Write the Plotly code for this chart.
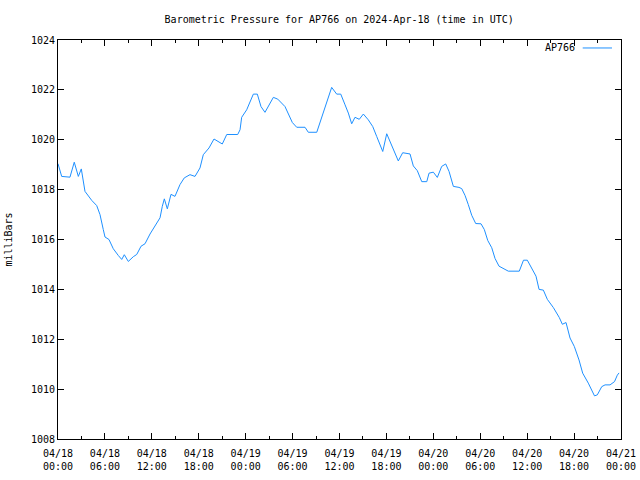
import pandas as pd
import plotly.graph_objects as go

# hours since 2024-04-18 00:00 UTC
hours = [0.0, 0.47, 1.53, 2.08, 2.6, 2.98, 3.45, 3.88, 4.31, 4.95, 5.37, 5.79, 6.01, 6.52,
         7.07, 7.71, 8.15, 8.48, 8.99, 9.63, 10.07, 10.62, 11.13, 11.77, 13.05, 13.34, 13.6,
         13.98, 14.45, 14.96, 15.6, 16.15, 16.88, 17.52, 18.16, 18.58, 19.31, 19.95, 20.42,
         21.01, 21.58, 22.98, 23.28, 23.49, 24.13, 24.98, 25.49, 25.96, 26.47, 27.54, 28.1,
         29.03, 29.97, 30.53, 31.59, 32.01, 33.09, 33.8, 35.0, 35.64, 36.16, 36.71, 37.13,
         37.56, 37.98, 38.53, 39.05, 39.68, 40.25, 40.76, 41.53, 42.04, 42.46, 43.1, 43.52,
         44.08, 45.02, 45.44, 45.95, 46.52, 47.16, 47.45, 48.0, 48.51, 49.07, 49.58, 50.01,
         50.56, 51.28, 51.63, 52.05, 52.47, 52.91, 53.42, 54.1, 54.52, 54.96, 55.47, 55.89,
         56.4, 57.08, 57.59, 58.99, 59.53, 60.02, 60.58, 61.13, 61.52, 62.07, 62.58, 63.35,
         64.11, 64.5, 64.97, 65.48, 66.03, 66.63, 67.1, 67.82, 68.61, 68.97, 69.54, 69.96,
         70.6, 71.17, 71.53, 71.75]
pressure = [1019.04, 1018.53, 1018.5, 1019.1, 1018.53, 1018.83, 1017.93, 1017.73, 1017.57,
            1017.36, 1017.0, 1016.4, 1016.1, 1016.0, 1015.63, 1015.36, 1015.2, 1015.39,
            1015.12, 1015.31, 1015.4, 1015.73, 1015.83, 1016.22, 1016.87, 1017.33, 1017.63,
            1017.23, 1017.81, 1017.73, 1018.2, 1018.47, 1018.6, 1018.53, 1018.87, 1019.4,
            1019.67, 1020.03, 1019.93, 1019.83, 1020.21, 1020.21, 1020.4, 1020.9, 1021.2,
            1021.83, 1021.83, 1021.33, 1021.1, 1021.7, 1021.63, 1021.33, 1020.69, 1020.5,
            1020.5, 1020.3, 1020.3, 1021.0, 1022.1, 1021.83, 1021.83, 1021.4, 1021.07,
            1020.64, 1020.9, 1020.82, 1021.03, 1020.8, 1020.53, 1020.13, 1019.53, 1020.24,
            1019.93, 1019.4, 1019.15, 1019.48, 1019.43, 1018.95, 1018.76, 1018.32, 1018.32,
            1018.66, 1018.7, 1018.49, 1018.93, 1019.03, 1018.73, 1018.13, 1018.09, 1018.04,
            1017.77, 1017.4, 1016.97, 1016.64, 1016.63, 1016.4, 1015.96, 1015.67, 1015.24,
            1014.93, 1014.8, 1014.73, 1014.73, 1015.17, 1015.17, 1014.87, 1014.53, 1014.0,
            1013.97, 1013.6, 1013.27, 1012.87, 1012.6, 1012.67, 1012.05, 1011.71, 1011.17,
            1010.64, 1010.24, 1009.73, 1009.77, 1010.1, 1010.17, 1010.17, 1010.3, 1010.56,
            1010.65]

start = pd.Timestamp("2024-04-18 00:00")
times = [start + pd.Timedelta(hours=h) for h in hours]

tick_times = [start + pd.Timedelta(hours=6 * i) for i in range(13)]
tick_text = [t.strftime("%m/%d<br>%H:%M") for t in tick_times]
y_ticks = [1008, 1010, 1012, 1014, 1016, 1018, 1020, 1022, 1024]

FONT = "DejaVu Sans Mono"
LINE_COLOR = "#1e90ff"

fig = go.Figure()
fig.add_trace(go.Scatter(x=times, y=pressure, mode="lines", name="AP766",
                         line=dict(color=LINE_COLOR, width=1), showlegend=False))

fig.update_layout(
    width=640, height=480,
    margin=dict(l=58, r=19, t=40, b=41, autoexpand=False),
    paper_bgcolor="white", plot_bgcolor="white",
    font=dict(family=FONT, size=10, color="black"),
    title=dict(text="Barometric Pressure for AP766 on 2024-Apr-18 (time in UTC)",
               x=0.53, xanchor="center", y=0.96, yanchor="middle",
               font=dict(family=FONT, size=10, color="black")),
)
fig.update_xaxes(
    range=[start, start + pd.Timedelta(hours=72)],
    automargin=False,
    tickmode="array", tickvals=tick_times, ticktext=tick_text,
    ticks="inside", ticklen=6, tickwidth=1, tickcolor="black",
    minor=dict(ticks="inside", ticklen=3, dtick=3 * 3600 * 1000, tickcolor="black"),
    showline=True, linecolor="black", linewidth=1, mirror="ticks",
    showgrid=False, zeroline=False,
    ticklabelstandoff=5,
    tickfont=dict(family=FONT, size=10),
)
fig.update_yaxes(
    range=[1008, 1024], tickvals=y_ticks,
    automargin=False,
    ticks="inside", ticklen=6, tickwidth=1, tickcolor="black",
    showline=True, linecolor="black", linewidth=1, mirror="ticks",
    showgrid=False, zeroline=False,
    title=dict(text="milliBars", font=dict(family=FONT, size=10), standoff=16),
    tickfont=dict(family=FONT, size=10),
)

# gnuplot-style key: text then line sample at top right
fig.add_annotation(xref="paper", yref="paper", x=0.921, y=0.98, xanchor="right",
                   yanchor="middle", text="AP766", showarrow=False,
                   font=dict(family=FONT, size=10, color="black"))
fig.add_shape(type="line", xref="paper", yref="paper", x0=0.932, x1=0.984,
              y0=0.98, y1=0.98, line=dict(color=LINE_COLOR, width=1))

fig.write_html("out.html")
